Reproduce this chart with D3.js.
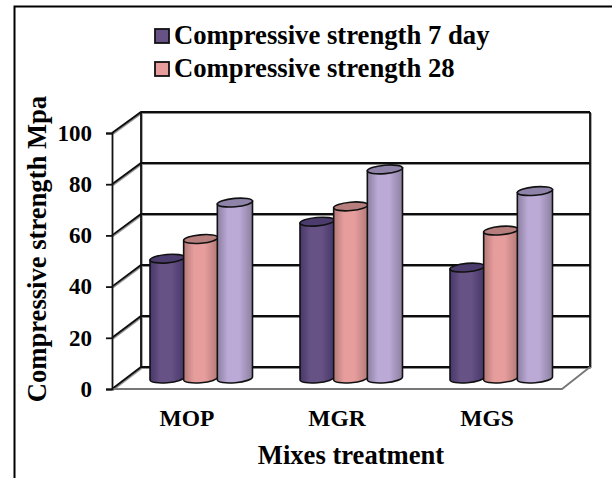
<!DOCTYPE html>
<html><head><meta charset="utf-8">
<script src="https://cdn.jsdelivr.net/npm/d3@7"></script>
<style>html,body{margin:0;padding:0;background:#fff}svg{display:block}text{font-family:"Liberation Serif",serif;font-weight:bold;fill:#000}</style>
</head><body><div id="c"></div>
<script>
const categories = ["MOP","MGR","MGS"];
const seriesNames = ["Compressive strength 7 day","Compressive strength 28","Compressive strength 90"];
const series7 = [47,61.5,43.5];
const series28 = [54.7,67.5,58];
const series90 = [69,82,73.5];
const yTicks = [0,20,40,60,80,100];
const legendShown = [0,1];
const allSeries = [series7,series28,series90];
const edgeColors = ["#46376a","#b27a78","#8c7fa0"];
const midColors = ["#675285","#e69d9c","#bbaad6"];
const capColors = ["#4c3c6e","#b67e7c","#8f83aa"];
const svg = d3.select("#c").append("svg").attr("width",616).attr("height",478);
const defs = svg.append("defs");
const f = defs.append("filter").attr("id","sh").attr("x","-5%").attr("y","-5%").attr("width","110%").attr("height","110%");
f.append("feDropShadow").attr("dx",0.8).attr("dy",1).attr("stdDeviation",0.7).attr("flood-color","#000").attr("flood-opacity",0.45);
edgeColors.forEach((c,i)=>{
  const g=defs.append("linearGradient").attr("id","g"+i);
  [[0,c],[0.3,midColors[i]],[0.62,midColors[i]],[1,c]].forEach(s=>g.append("stop").attr("offset",s[0]).attr("stop-color",s[1]));
});
svg.append("path").attr("d","M14.5,478V6.5H612").attr("fill","none").attr("stroke","#000").attr("stroke-width",2);

const yFront=d3.scaleLinear([0,100],[389,133]);
const yBack=d3.scaleLinear([0,100],[367,112]);
const yBar=d3.scaleLinear([0,100],[378.5,123.5]);
const x0=d3.scaleBand(categories,[126,576]).padding(0);
const x1=d3.scaleBand([0,1,2],[0,101]);
const xLab=d3.scaleBand(categories,[112,562]);
const L=141,R=590,FL=112,FR=562;
const grid=svg.append("g").attr("filter","url(#sh)").attr("fill","none").attr("stroke","#111").attr("stroke-width",1.8);
yTicks.forEach(t=>{
  grid.append("path").attr("d",`M${FL},${yFront(t)}L${L},${yBack(t)}L${R},${yBack(t)}`);
});
grid.append("path").attr("d",`M${L},${yBack(0)}V${yBack(100)}`);
grid.append("path").attr("d",`M${R},${yBack(100)}V${yBack(0)}`);
svg.append("path").attr("d",`M${FL},${yFront(0)}H${FR}L${R},${yBack(0)}`).attr("fill","none").attr("stroke","#777").attr("stroke-width",1.8);

const ax=svg.append("g").attr("transform",`translate(${FL},0)`).call(d3.axisLeft(yFront).tickValues(yTicks).tickSize(6).tickPadding(14));
ax.selectAll("path,line").attr("stroke","#111").attr("stroke-width",1.8);
ax.selectAll("text").attr("font-size",23).attr("font-family",'"Liberation Serif"').attr("font-weight","bold");

const ry=4.2, rot=-5, cr=Math.cos(rot*Math.PI/180);
categories.forEach((cat,ci)=>{
  allSeries.forEach((vals,si)=>{
    const a=x0(cat)+x0.bandwidth()/2-50.5+x1(si)-0.5, w=x1.bandwidth()+(si==2?1.5:0.5), b=a+w;
    const rr=w/2, dy=rr*Math.tan(-rot*Math.PI/180);
    const yb=yBar(0), yt=yBar(vals[ci]);
    const g=svg.append("g").attr("stroke","#111").attr("stroke-width",1.6);
    g.append("path").attr("fill",`url(#g${si})`)
     .attr("d",`M${a},${yt+dy}L${a},${yb+dy}A${rr/cr},${ry} ${rot} 0 0 ${b},${yb-dy}L${b},${yt-dy}Z`);
    g.append("path").attr("fill",capColors[si])
     .attr("d",`M${a},${yt+dy}A${rr/cr},${ry} ${rot} 1 1 ${b},${yt-dy}A${rr/cr},${ry} ${rot} 1 1 ${a},${yt+dy}Z`);
  });
});
svg.append("g").selectAll("text").data(categories).join("text")
 .attr("x",d=>xLab(d)+xLab.bandwidth()/2).attr("y",426).attr("text-anchor","middle").attr("font-size",23.5).text(d=>d);
svg.append("text").attr("x",351).attr("y",464).attr("text-anchor","middle").attr("font-size",26.6).text("Mixes treatment");
svg.append("text").attr("transform","translate(46,249) rotate(-90)").attr("text-anchor","middle").attr("font-size",26.6).text("Compressive strength Mpa");
legendShown.forEach((si,i)=>{
  const y=36+i*33;
  svg.append("rect").attr("x",155).attr("y",y-7).attr("width",14).attr("height",14).attr("fill",midColors[si]).attr("stroke","#111").attr("stroke-width",1.8);
  svg.append("text").attr("x",174).attr("y",y+8).attr("font-size",26.7).text(seriesNames[si]);
});
</script></body></html>
